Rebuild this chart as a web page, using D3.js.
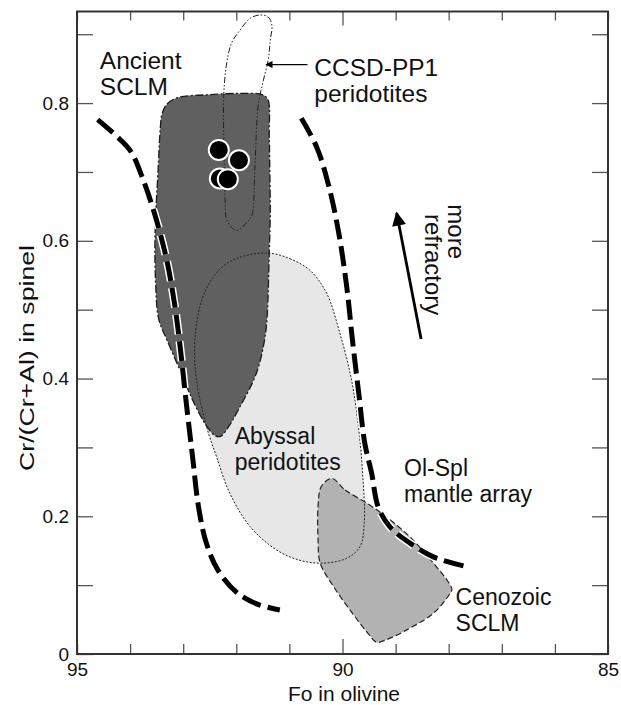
<!DOCTYPE html>
<html><head><meta charset="utf-8">
<script src="https://cdn.jsdelivr.net/npm/d3@7"></script>
<style>
body{margin:0;background:#fff;}
svg{display:block;font-family:'Liberation Sans',Arial,Helvetica,sans-serif;}
</style></head>
<body><svg id="c" width="621" height="705"></svg>
<script>
// ---- data (Fo in olivine, Cr/(Cr+Al) in spinel) ----
const xTicks = [85,86,87,88,89,90,91,92,93,94,95];
const xLabels = [95,90,85];
const yTicks = [0,0.1,0.2,0.3,0.4,0.5,0.6,0.7,0.8,0.9];
const yLabels = [0,0.2,0.4,0.6,0.8];

const abyssal = [[91.37,0.582],[90.99,0.574],[90.61,0.557],[90.30,0.524],[90.05,0.466],[89.83,0.398],[89.70,0.330],[89.62,0.262],[89.59,0.190],[89.67,0.156],[89.92,0.139],[90.36,0.132],[90.80,0.136],[91.24,0.151],[91.74,0.185],[92.12,0.233],[92.37,0.286],[92.56,0.330],[92.75,0.398],[92.78,0.456],[92.65,0.514],[92.43,0.548],[92.18,0.567],[91.80,0.579]];

const ancient = [[93.40,0.784],[93.30,0.799],[93.10,0.808],[92.56,0.812],[91.93,0.814],[91.50,0.812],[91.40,0.804],[91.38,0.756],[91.37,0.707],[91.36,0.640],[91.38,0.581],[91.42,0.490],[91.47,0.455],[91.62,0.408],[91.93,0.359],[92.18,0.326],[92.30,0.316],[92.40,0.317],[92.55,0.330],[92.80,0.365],[93.06,0.412],[93.30,0.455],[93.46,0.486],[93.52,0.540],[93.53,0.611],[93.47,0.707],[93.43,0.765]];

const cenozoic = [[90.20,0.255],[89.95,0.238],[89.54,0.219],[89.17,0.199],[88.73,0.170],[88.29,0.132],[88.02,0.106],[87.94,0.094],[88.00,0.085],[88.29,0.059],[88.79,0.035],[89.20,0.020],[89.36,0.017],[89.52,0.030],[89.86,0.064],[90.17,0.098],[90.42,0.132],[90.46,0.166],[90.46,0.214],[90.40,0.243]];

const ccsd = [[91.55,0.928],[91.40,0.925],[91.33,0.913],[91.36,0.891],[91.40,0.862],[91.50,0.830],[91.59,0.795],[91.65,0.707],[91.71,0.636],[91.80,0.627],[91.99,0.615],[92.17,0.628],[92.21,0.659],[92.23,0.732],[92.24,0.804],[92.19,0.853],[92.09,0.887],[91.93,0.906],[91.74,0.923]];

const arrayLeft = [[94.61,0.776],[94.20,0.748],[93.98,0.729],[93.76,0.690],[93.53,0.637],[93.31,0.572],[93.16,0.507],[93.05,0.441],[92.94,0.363],[92.82,0.284],[92.71,0.213],[92.56,0.160],[92.34,0.121],[91.97,0.088],[91.59,0.072],[91.18,0.064]];
const arrayRight = [[90.775,0.778],[90.48,0.735],[90.25,0.677],[90.07,0.611],[89.92,0.533],[89.81,0.454],[89.69,0.376],[89.58,0.306],[89.45,0.262],[89.33,0.214],[89.11,0.185],[88.73,0.161],[88.29,0.141],[87.72,0.128]];

const samples = [[92.31,0.6905],[92.16,0.6895],[92.33,0.732],[91.95,0.717]];

const refractoryArrow = [[88.52,0.4575],[88.98,0.6404]];
const ccsdArrow = [[90.66,0.856],[91.44,0.856]];

// ---- drawing ----
const svg = d3.select('#c');
const x = d3.scaleLinear().domain([95,85]).range([77,608]);
const y = d3.scaleLinear().domain([0,0.933]).range([654,11.5]);

const closed = d3.line().x(d=>x(d[0])).y(d=>y(d[1])).curve(d3.curveCatmullRomClosed.alpha(0.5));
const open = d3.line().x(d=>x(d[0])).y(d=>y(d[1])).curve(d3.curveCatmullRom.alpha(0.5));

const defs = svg.append('defs');
defs.append('marker').attr('id','ah').attr('viewBox','0 0 10 10').attr('refX',9).attr('refY',5)
  .attr('markerWidth',5.5).attr('markerHeight',5).attr('markerUnits','strokeWidth').attr('orient','auto')
  .append('path').attr('d','M0,0 L10,5 L0,10 Z').attr('fill','#000');
defs.append('marker').attr('id','ah2').attr('viewBox','0 0 10 10').attr('refX',9).attr('refY',5)
  .attr('markerWidth',9).attr('markerHeight',6).attr('markerUnits','strokeWidth').attr('orient','auto')
  .append('path').attr('d','M0,0 L10,5 L0,10 Z').attr('fill','#000');

// fills
svg.append('path').attr('d',closed(abyssal)).attr('fill','#e7e7e7');
svg.append('path').attr('d',closed(cenozoic)).attr('fill','#b2b2b2');
svg.append('path').attr('d',closed(ancient)).attr('fill','#606060');

// outlines
svg.append('path').attr('d',closed(abyssal)).attr('fill','none').attr('stroke','#222').attr('stroke-width',1).attr('stroke-dasharray','2,1.6');
svg.append('path').attr('d',closed(cenozoic)).attr('fill','none').attr('stroke','#222').attr('stroke-width',1.2).attr('stroke-dasharray','6,3');
svg.append('path').attr('d',closed(ancient)).attr('fill','none').attr('stroke','#1a1a1a').attr('stroke-width',1.3).attr('stroke-dasharray','8,2.5,2,2.5');
svg.append('path').attr('d',closed(ccsd)).attr('fill','none').attr('stroke','#222').attr('stroke-width',1).attr('stroke-dasharray','6,2,1.5,2,1.5,2');

// mantle array curves
[arrayLeft, arrayRight].forEach(a=>{
  svg.append('path').attr('d',open(a)).attr('fill','none').attr('stroke','#fff').attr('stroke-width',8).attr('stroke-dasharray','20,7');
  svg.append('path').attr('d',open(a)).attr('fill','none').attr('stroke','#000').attr('stroke-width',5).attr('stroke-dasharray','20,7');
});

// samples
svg.append('g').selectAll('circle').data(samples).join('circle')
  .attr('cx',d=>x(d[0])).attr('cy',d=>y(d[1])).attr('r',10)
  .attr('fill','#000').attr('stroke','#fff').attr('stroke-width',2);

// arrows
svg.append('line').attr('x1',x(refractoryArrow[0][0])).attr('y1',y(refractoryArrow[0][1]))
  .attr('x2',x(refractoryArrow[1][0])).attr('y2',y(refractoryArrow[1][1]))
  .attr('stroke','#000').attr('stroke-width',2.8).attr('marker-end','url(#ah)');
svg.append('line').attr('x1',x(ccsdArrow[0][0])).attr('y1',y(ccsdArrow[0][1]))
  .attr('x2',x(ccsdArrow[1][0])).attr('y2',y(ccsdArrow[1][1]))
  .attr('stroke','#000').attr('stroke-width',1.2).attr('marker-end','url(#ah2)');

// labels
function label(fo, cr, lines, size){
  const t = svg.append('text').attr('x',x(fo)).attr('y',y(cr)).attr('font-size',size).attr('fill','#111');
  lines.forEach((l,i)=>t.append('tspan').attr('x',x(fo)).attr('dy',i?26:0).text(l));
}
label(94.57,0.850,['Ancient','SCLM'],24.5);
label(90.53,0.839,['CCSD-PP1','peridotites'],24.5);
label(92.03,0.305,['Abyssal','peridotites'],23);
label(88.84,0.258,['Ol-Spl','mantle array'],23);
label(87.87,0.0715,['Cenozoic','SCLM'],23);

svg.append('text').attr('transform',`translate(${x(88.02)},${y(0.653)}) rotate(90)`).attr('font-size',24).attr('fill','#111').text('more');
svg.append('text').attr('transform',`translate(${x(88.45)},${y(0.639)}) rotate(90)`).attr('font-size',24).attr('fill','#111').text('refractory');

// axes
const fmtY = d => yLabels.some(v=>Math.abs(v-d)<1e-6) ? (d===0?'0':d3.format('.1f')(d)) : '';
const fmtX = d => xLabels.includes(d) ? String(d) : '';

const gB = svg.append('g').attr('transform','translate(0,654)')
  .call(d3.axisBottom(x).tickValues(xTicks).tickSize(-10).tickPadding(9).tickFormat(fmtX));
gB.selectAll('.tick line').filter(d=>d===90).attr('y2',-15);
const gT = svg.append('g').attr('transform','translate(0,11.5)')
  .call(d3.axisTop(x).tickValues(xTicks).tickSize(-9).tickFormat(''));
gT.selectAll('.tick line').filter(d=>d===90).attr('y2',14);
const gL = svg.append('g').attr('transform','translate(77,0)')
  .call(d3.axisLeft(y).tickValues(yTicks).tickSize(-16).tickPadding(8).tickFormat(fmtY));
const gR = svg.append('g').attr('transform','translate(608,0)')
  .call(d3.axisRight(y).tickValues(yTicks).tickSize(-16).tickFormat(''));
[gB,gT,gL,gR].forEach(g=>{
  g.select('.domain').remove();
  g.selectAll('.tick line').attr('stroke','#555').attr('stroke-width',1.3);
  g.selectAll('text').attr('font-size',19).attr('fill','#111').attr('font-family',"'Liberation Sans',Arial,sans-serif");
});

// frame
svg.append('rect').attr('x',77).attr('y',11.5).attr('width',531).attr('height',642.5)
  .attr('fill','none').attr('stroke','#333').attr('stroke-width',2);

// axis titles
svg.append('text').attr('x',344).attr('y',701).attr('text-anchor','middle').attr('font-size',21).attr('fill','#111').text('Fo in olivine');
svg.append('text').attr('transform','translate(34,358) rotate(-90)').attr('text-anchor','middle')
  .attr('font-size',21).attr('fill','#111').attr('textLength',226).attr('lengthAdjust','spacingAndGlyphs').text('Cr/(Cr+Al) in spinel');
</script></body></html>
